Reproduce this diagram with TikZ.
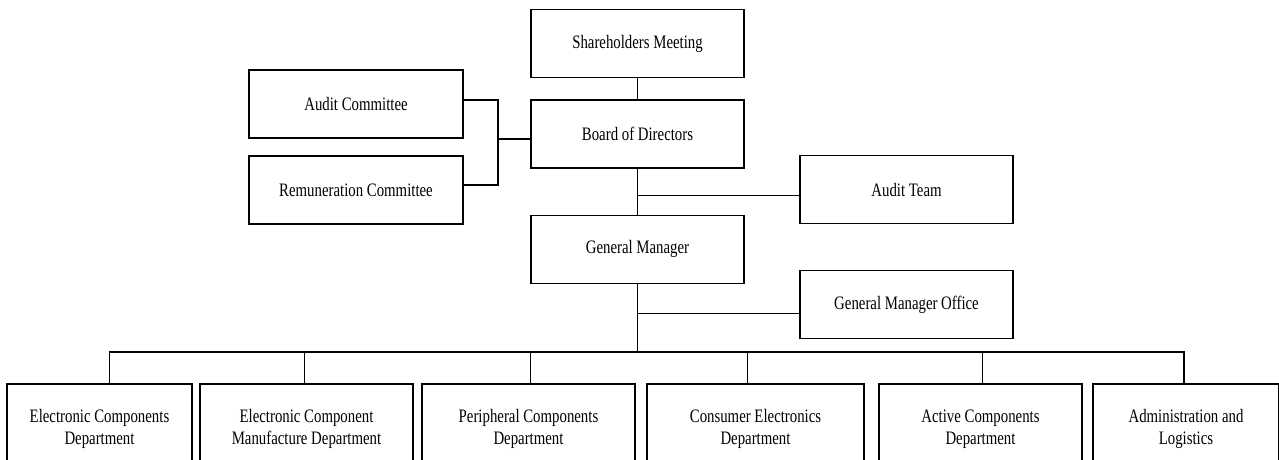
\documentclass[tikz,border=0pt]{standalone}
\usepackage{fontspec}
\setmainfont{Liberation Serif}[FakeStretch=0.78]
\usetikzlibrary{positioning}

\begin{document}
\begin{tikzpicture}[x=1pt,y=-1pt,
    unit/.style={draw, line width=1.4pt, minimum height=68pt, inner sep=2pt,
                 align=center, font=\fontsize{19}{22}\selectfont},
    dept/.style={unit, minimum height=90pt},
    link/.style={line width=1.4pt}]
    \clip (0,0) rectangle (1279,460);

    % central column
    \node[unit, minimum width=213pt] (share) at (637.5,43.5) {Shareholders Meeting};
    \node[unit, minimum width=213pt, below=21pt of share] (board) {Board of Directors};
    \node[unit, minimum width=213pt, below=46pt of board] (gm) {General Manager};

    % side units
    \node[unit, minimum width=214pt] (auditc) at (356,104) {Audit Committee};
    \node[unit, minimum width=214pt] (remun) at (356,190) {Remuneration Committee};
    \node[unit, minimum width=213pt] (auditt) at (906.5,189.5) {Audit Team};
    \node[unit, minimum width=213pt] (gmo) at (906.5,304.5) {General Manager Office};

    % departments
    \node[dept, minimum width=185pt] (d1) at (99.5,429) {Electronic Components\\Department};
    \node[dept, minimum width=213pt] (d2) at (306.5,429) {Electronic Component\\Manufacture Department};
    \node[dept, minimum width=213pt] (d3) at (528.5,429) {Peripheral Components\\Department};
    \node[dept, minimum width=217pt] (d4) at (755.5,429) {Consumer Electronics\\Department};
    \node[dept, minimum width=203pt] (d5) at (980.5,429) {Active Components\\Department};
    \node[dept, minimum width=186pt] (d6) at (1186,429) {Administration and\\Logistics};

    % connectors
    \coordinate (cjoin) at (498,139);
    \coordinate (bus) at (638.5,352);
    \draw[link] (share) -- (board);
    \draw[link] ([yshift=4pt]auditc.east) -| (cjoin) |- ([yshift=5pt]remun.east);
    \draw[link] (cjoin) -- (cjoin -| board.west);
    \draw[link] (board) -- (gm);
    \draw[link] ([yshift=-6pt]auditt.west) -- ([yshift=-6pt]auditt.west -| board.south);
    \draw[link] (gm) -- (gm |- bus);
    \draw[link] ([yshift=-9pt]gmo.west) -- ([yshift=-9pt]gmo.west -| gm.south);
    \draw[link] ([xshift=10pt]d1.north) |- ([xshift=-2pt]d6.north |- bus) -- ([xshift=-2pt]d6.north);
    \draw[link] ([xshift=-2pt]d2.north) -- ([xshift=-2pt]d2.north |- bus);
    \draw[link] ([xshift=2pt]d3.north) -- ([xshift=2pt]d3.north |- bus);
    \draw[link] ([xshift=-8pt]d4.north) -- ([xshift=-8pt]d4.north |- bus);
    \draw[link] ([xshift=2pt]d5.north) -- ([xshift=2pt]d5.north |- bus);
\end{tikzpicture}
\end{document}
